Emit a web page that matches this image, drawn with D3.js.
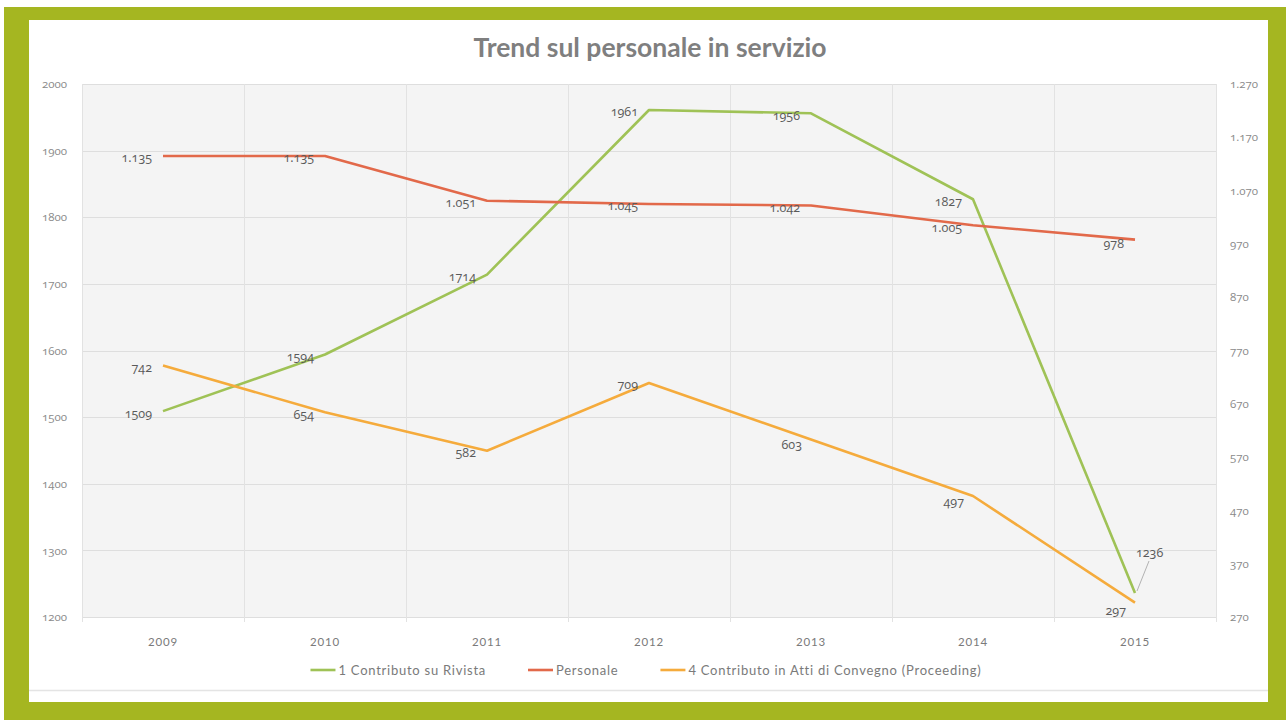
<!DOCTYPE html>
<html>
<head>
<meta charset="utf-8">
<script src="https://cdn.jsdelivr.net/npm/d3@7"></script>
<style>
  html, body { margin: 0; padding: 0; background: #ffffff; }
  svg { display: block; }
  .num { font-family: "Open Sans", "Noto Sans", sans-serif; font-feature-settings: "onum" 1; font-variant-numeric: oldstyle-nums; }
</style>
</head>
<body>
<div id="chart"></div>
<script>
// ---------------- DATA ----------------
const years = ["2009", "2010", "2011", "2012", "2013", "2014", "2015"];
const contributoRivista = [1509, 1594, 1714, 1961, 1956, 1827, 1236];   // left axis
const personale = [1135, 1135, 1051, 1045, 1042, 1005, 978];            // right axis
const contributoAtti = [742, 654, 582, 709, 603, 497, 297];             // right axis
const leftTicks = [1200, 1300, 1400, 1500, 1600, 1700, 1800, 1900, 2000];
const rightTicks = [270, 370, 470, 570, 670, 770, 870, 970, 1070, 1170, 1270];
const seriesNames = ["1 Contributo su Rivista", "Personale", "4 Contributo in Atti di Convegno (Proceeding)"];
const chartTitle = "Trend sul personale in servizio";

// ---------------- LAYOUT ----------------
const W = 1286, H = 720;
const plot = { left: 82, right: 1216, top: 84, bottom: 617 };
const colors = ["#9fc256", "#e2694a", "#f5ab3c"];

const itFmt = d3.formatLocale({ decimal: ",", thousands: ".", grouping: [3], currency: ["€", ""] }).format(",d");

const svg = d3.select("#chart").append("svg").attr("width", W).attr("height", H);

// frame
svg.append("rect").attr("x", 4).attr("y", 7).attr("width", W - 4).attr("height", H - 7).attr("fill", "#a5b621");
svg.append("rect").attr("x", 29).attr("y", 20).attr("width", 1239).attr("height", 682).attr("fill", "#ffffff");
svg.append("line").attr("x1", 29).attr("x2", 1268).attr("y1", 690.5).attr("y2", 690.5).attr("stroke", "#e4e4e4").attr("stroke-width", 1.5);

// scales
const x = d3.scaleBand().domain(years).range([plot.left, plot.right]);
const cx = d => x(d) + x.bandwidth() / 2;
const yL = d3.scaleLinear().domain([1200, 2000]).range([plot.bottom, plot.top]);
const yR = d3.scaleLinear().domain([270, 1270]).range([plot.bottom, plot.top]);

// plot background
svg.append("rect").attr("x", plot.left).attr("y", plot.top)
  .attr("width", plot.right - plot.left).attr("height", plot.bottom - plot.top)
  .attr("fill", "#f4f4f4");

// horizontal gridlines (left axis)
svg.append("g").selectAll("line").data(leftTicks).join("line")
  .attr("x1", plot.left).attr("x2", plot.right)
  .attr("y1", d => Math.round(yL(d)) + 0.5).attr("y2", d => Math.round(yL(d)) + 0.5)
  .attr("stroke", "#dedede").attr("stroke-width", 1.2);

// vertical gridlines at band boundaries
const bounds = years.map(d => x(d)).concat([plot.right]);
svg.append("g").selectAll("line").data(bounds).join("line")
  .attr("x1", d => Math.round(d) + 0.5).attr("x2", d => Math.round(d) + 0.5)
  .attr("y1", plot.top).attr("y2", plot.bottom + 5)
  .attr("stroke", "#e2e2e2").attr("stroke-width", 1);

// left axis
const axL = svg.append("g").attr("transform", `translate(${plot.left - 15},0)`)
  .call(d3.axisLeft(yL).tickValues(leftTicks).tickFormat(d3.format("d")).tickSize(0).tickPadding(0));
axL.select(".domain").remove();
axL.selectAll("text").attr("class", "num").attr("fill", "#8a8a8a").attr("font-size", 11.5);

// right axis
const axR = svg.append("g").attr("transform", `translate(${plot.right + 14},0)`)
  .call(d3.axisRight(yR).tickValues(rightTicks).tickFormat(itFmt).tickSize(0).tickPadding(0));
axR.select(".domain").remove();
axR.selectAll("text").attr("class", "num").attr("fill", "#8a8a8a").attr("font-size", 11.5);

// x axis
const axX = svg.append("g").attr("transform", `translate(0,${plot.bottom + 21})`)
  .call(d3.axisBottom(x).tickSize(0).tickPadding(0));
axX.select(".domain").remove();
axX.selectAll("text").attr("font-family", "Lato, 'Open Sans', sans-serif").attr("fill", "#7a7a7a")
  .attr("font-size", 11.5).attr("letter-spacing", 0.8).attr("dy", "0.71em");

// title
svg.append("text").attr("x", 650).attr("y", 57).attr("text-anchor", "middle")
  .attr("font-family", "Lato, 'Open Sans', sans-serif").attr("font-weight", 700)
  .attr("font-size", 26.5).attr("fill", "#7f7f7f").text(chartTitle);

// series
const series = [
  { name: seriesNames[0], values: contributoRivista, y: yL, color: colors[0], fmt: d3.format("d") },
  { name: seriesNames[1], values: personale, y: yR, color: colors[1], fmt: itFmt },
  { name: seriesNames[2], values: contributoAtti, y: yR, color: colors[2], fmt: d3.format("d") }
];

const line = (s) => d3.line().x((d, i) => cx(years[i])).y(d => s.y(d));

series.forEach(s => {
  svg.append("path").datum(s.values)
    .attr("d", line(s))
    .attr("fill", "none").attr("stroke", s.color).attr("stroke-width", 2.6)
    .attr("stroke-linejoin", "round");
});

// data label placement tweaks (series index, point index) -> offsets
const labelShift = { "2-4": [2, 3], "2-6": [2, 6], "2-5": [2, 4], "1-6": [0, 2] };

series.forEach((s, si) => {
  s.values.forEach((v, i) => {
    const px = cx(years[i]), py = s.y(v);
    if (si === 0 && i === 6) {
      // callout label with leader line
      svg.append("line").attr("x1", px + 2).attr("y1", py - 2).attr("x2", px + 14).attr("y2", py - 32)
        .attr("stroke", "#a0a0a0").attr("stroke-width", 0.8);
      svg.append("text").attr("class", "num").attr("x", px + 1).attr("y", py - 36)
        .attr("text-anchor", "start").attr("font-size", 12.5).attr("fill", "#5a5a5a")
        .text(s.fmt(v));
      return;
    }
    const sh = labelShift[si + "-" + i] || [0, 0];
    svg.append("text").attr("class", "num")
      .attr("x", px - 11 + sh[0]).attr("y", py + 2 + sh[1]).attr("dy", "0.35em")
      .attr("text-anchor", "end").attr("font-size", 12.5).attr("fill", "#5a5a5a")
      .text(s.fmt(v));
  });
});

// legend
const gap = 42;
const lg = svg.append("g");
let lx = 0;
series.forEach((s, i) => {
  const g = lg.append("g").attr("transform", `translate(${lx},0)`);
  g.append("line").attr("x1", 0).attr("x2", 25).attr("y1", 0).attr("y2", 0)
    .attr("stroke", s.color).attr("stroke-width", 2.6);
  const t = g.append("text").attr("x", 28).attr("y", 0).attr("dy", "0.35em")
    .attr("font-family", "Lato, 'Open Sans', sans-serif").attr("font-size", 13)
    .attr("letter-spacing", 0.75).attr("fill", "#7a7a7a").text(s.name);
  lx += 28 + t.node().getComputedTextLength() + gap;
});
lx -= gap;
lg.attr("transform", `translate(${646 - lx / 2},${plot.bottom + 53})`);
</script>
</body>
</html>
